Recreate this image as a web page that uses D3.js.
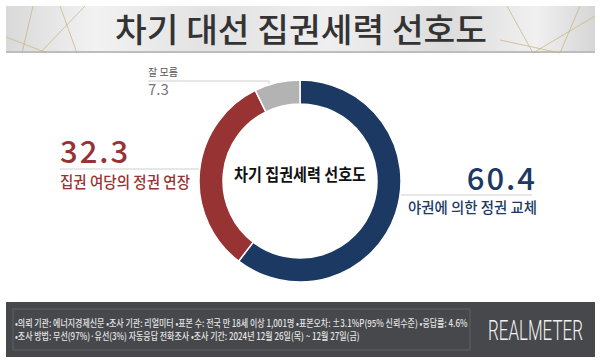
<!DOCTYPE html>
<html><head><meta charset="utf-8">
<script src="https://cdn.jsdelivr.net/npm/d3@7/dist/d3.min.js"></script>
<style>
html,body{margin:0;padding:0;background:#fff;}
svg{display:block;}
text{font-family:"Noto Sans CJK KR","Noto Sans",sans-serif;}
</style></head>
<body>
<svg id="chart" width="600" height="363"></svg>
<script>
const title = "차기 대선 집권세력 선호도";
const centerLabel = "차기 집권세력 선호도";
const categories = ["야권에 의한 정권 교체", "집권 여당의 정권 연장", "잘 모름"];
const values = [60.4, 32.3, 7.3];
const colors = ["#1c3964", "#973333", "#b3b3b3"];
const footerLines = [
  "•의뢰 기관: 에너지경제신문  •조사 기관: 리얼미터 •표본 수: 전국 만 18세 이상 1,001명 •표본오차: ±3.1%P(95% 신뢰수준) •응답률: 4.6%",
  "•조사 방법: 무선(97%)·유선(3%) 자동응답 전화조사 •조사 기간: 2024년 12월 26일(목) ~ 12월 27일(금)"
];
const brand = "REALMETER";

const svg = d3.select("#chart");
const defs = svg.append("defs");

// Title banner
const g1 = defs.append("linearGradient").attr("id","bannerGrad").attr("x1","0").attr("x2","1").attr("y1","0").attr("y2","0");
[[0,"#d9d9d9"],[0.15,"#f2f2f2"],[0.35,"#e2e2e2"],[0.55,"#efefef"],[0.75,"#dcdcdc"],[0.9,"#f0f0f0"],[1,"#d6d6d6"]]
  .forEach(([o,c])=>g1.append("stop").attr("offset",o).attr("stop-color",c));
svg.append("rect").attr("x",6).attr("y",6).attr("width",589).attr("height",47).attr("fill","url(#bannerGrad)");
svg.append("rect").attr("x",6).attr("y",51).attr("width",589).attr("height",2).attr("fill","#bdbdbd");
const gold = [[33,6,22,53],[60,6,77,53],[6,37,47,53],[85,6,40,53],[507,6,533,53],[580,6,560,53],[533,53,595,16],[500,40,560,53]];
svg.append("g").selectAll("line").data(gold).join("line")
  .attr("x1",d=>d[0]).attr("y1",d=>d[1]).attr("x2",d=>d[2]).attr("y2",d=>d[3])
  .attr("stroke","#c9b47c").attr("stroke-width",0.8).attr("opacity",0.9);
svg.append("text").attr("x",301).attr("y",42).attr("text-anchor","middle")
  .attr("font-size",33).attr("font-weight",500).attr("fill","#333")
  .attr("textLength",372).attr("lengthAdjust","spacingAndGlyphs").text(title);

// Donut
const cx = 300, cy = 181, outerR = 101, innerR = 77;
const pie = d3.pie().sort(null).value(d=>d)(values);
const arc = d3.arc().innerRadius(innerR).outerRadius(outerR);

// leader lines (behind ring)
const lineColor = "#cfcfcf";
const grayArc = pie[2];
const gMid = (grayArc.startAngle + grayArc.endAngle)/2;
const gx = cx + Math.sin(gMid)*outerR, gy = cy - Math.cos(gMid)*outerR;
svg.append("polyline").attr("points", `148,81 ${gx-8},81 ${gx-8},${gy+2}`)
  .attr("fill","none").attr("stroke",lineColor).attr("stroke-width",1);
svg.append("line").attr("x1",60).attr("x2",cx - Math.sqrt(outerR*outerR-(169-cy)*(169-cy))).attr("y1",169).attr("y2",169)
  .attr("stroke",lineColor).attr("stroke-width",1);
svg.append("line").attr("x1",cx + Math.sqrt(outerR*outerR-(195-cy)*(195-cy))).attr("x2",532).attr("y1",195).attr("y2",195)
  .attr("stroke",lineColor).attr("stroke-width",1);

svg.append("g").attr("transform",`translate(${cx},${cy})`)
  .selectAll("path").data(pie).join("path")
  .attr("d",arc).attr("fill",(d,i)=>colors[i]).attr("stroke","#fff").attr("stroke-width",1.5);

svg.append("text").attr("x",cx).attr("y",181).attr("text-anchor","middle")
  .attr("font-size",17).attr("font-weight",700).attr("fill","#111")
  .attr("textLength",132).attr("lengthAdjust","spacingAndGlyphs").text(centerLabel);

// Labels
const fmt = d3.format(".1f");
svg.append("text").attr("x",60).attr("y",163).attr("font-size",31).attr("font-weight",500)
  .attr("fill",colors[1]).attr("letter-spacing",2).text(fmt(values[1]));
svg.append("text").attr("x",60).attr("y",188).attr("font-size",16).attr("font-weight",500)
  .attr("fill",colors[1]).attr("textLength",130).attr("lengthAdjust","spacingAndGlyphs").text(categories[1]);
svg.append("text").attr("x",537).attr("y",190).attr("text-anchor","end").attr("font-size",31).attr("font-weight",500)
  .attr("fill",colors[0]).attr("letter-spacing",2).text(fmt(values[0]));
svg.append("text").attr("x",408).attr("y",213).attr("font-size",15).attr("font-weight",500)
  .attr("fill",colors[0]).attr("textLength",129).attr("lengthAdjust","spacingAndGlyphs").text(categories[0]);
svg.append("text").attr("x",148).attr("y",76).attr("font-size",10).attr("fill","#555").text(categories[2]);
svg.append("text").attr("x",148).attr("y",95).attr("font-size",15).attr("fill","#777").text(fmt(values[2]));

// Footer
svg.append("rect").attr("x",6).attr("y",302).attr("width",589).attr("height",55).attr("fill","#46484c");
svg.append("rect").attr("x",13).attr("y",309).attr("width",457).attr("height",41)
  .attr("fill","none").attr("stroke","#5e6065").attr("stroke-width",1);
function fitX(sel, x, y, width){
  const w = sel.node().getComputedTextLength();
  sel.attr("x",0).attr("y",0).attr("transform",`translate(${x},${y}) scale(${width/w},1)`);
}
const f1 = svg.append("text").attr("font-size",9.8).attr("font-weight",500).attr("fill","#e4e4e4").text(footerLines[0]);
fitX(f1, 15, 327, 453);
const f2 = svg.append("text").attr("font-size",9.8).attr("font-weight",500).attr("fill","#e4e4e4").text(footerLines[1]);
fitX(f2, 15, 340, 345);
const b = svg.append("text").attr("font-size",28).attr("font-weight",300)
  .style("font-family","Roboto,'DejaVu Sans',sans-serif").attr("fill","#f2f2f2").text(brand);
fitX(b, 488, 340, 95);
</script>
</body></html>
